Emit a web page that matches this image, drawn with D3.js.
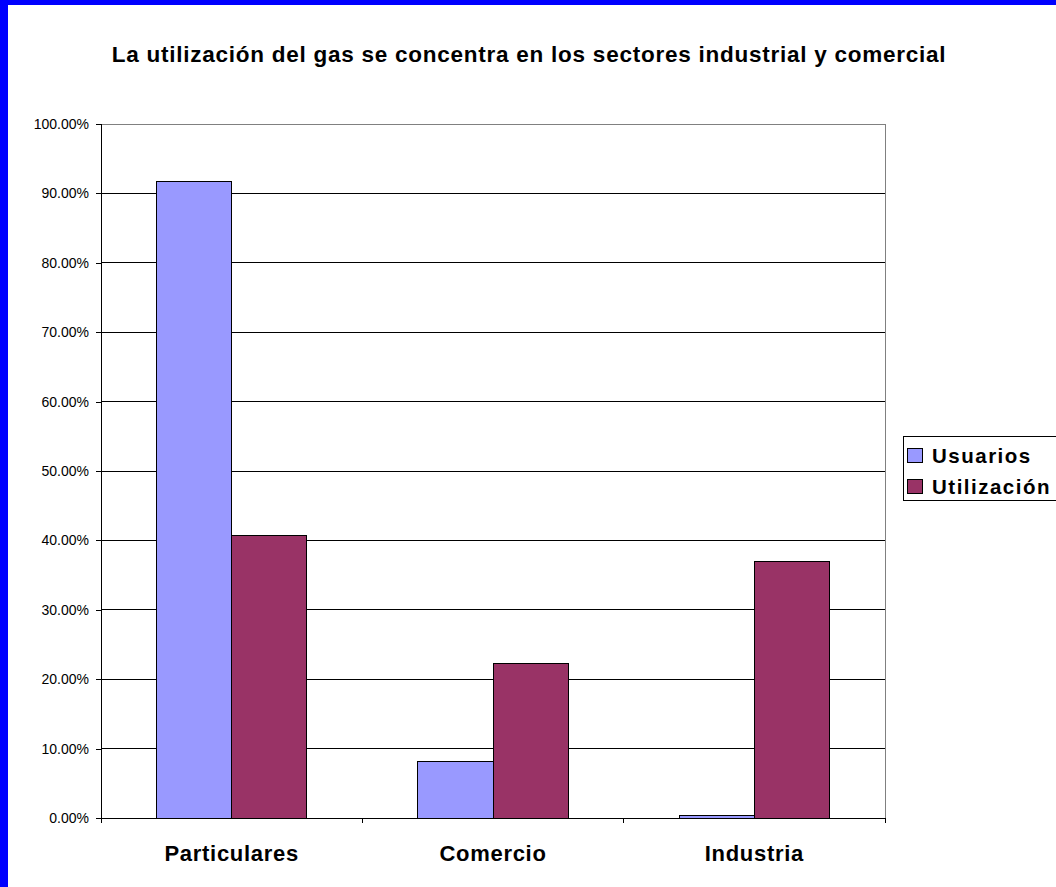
<!DOCTYPE html>
<html><head><meta charset="utf-8">
<script src="https://cdn.jsdelivr.net/npm/d3@7"></script>
<style>
body{margin:0;padding:0;background:#fff;}
svg{display:block;}
text{font-family:"Liberation Sans",Arial,sans-serif;}
</style></head>
<body>
<script>
const categories = ["Particulares", "Comercio", "Industria"];
const seriesNames = ["Usuarios", "Utilización"];
const usuarios = [0.917, 0.081, 0.003];
const utilizacion = [0.407, 0.223, 0.370];
const yTicks = [0, 0.1, 0.2, 0.3, 0.4, 0.5, 0.6, 0.7, 0.8, 0.9, 1.0];
const colors = ["#9999FF", "#993366"];
const title = "La utilización del gas se concentra en los sectores industrial y comercial";

const W = 1056, H = 887;
const svg = d3.select("body").append("svg").attr("width", W).attr("height", H);
svg.append("rect").attr("width", W).attr("height", H).attr("fill", "#fff");
// blue frame
svg.append("rect").attr("x", 0).attr("y", 0).attr("width", 8).attr("height", H).attr("fill", "#0000FF");
svg.append("rect").attr("x", 0).attr("y", 0).attr("width", W).attr("height", 5).attr("fill", "#0000FF");

const L = 101, R = 885, T = 124, B = 818;
const x0 = d3.scaleBand().domain(categories).range([L, R]).paddingInner(0).paddingOuter(0);
const x1 = d3.scaleBand().domain(seriesNames).range([0, x0.bandwidth()]).paddingInner(0).paddingOuter(0.742);
const y = d3.scaleLinear().domain([0, 1]).range([B, T]);

// title
svg.append("text").attr("x", 529).attr("y", 62).attr("text-anchor", "middle")
  .attr("font-size", 22.5).attr("font-weight", "bold").attr("letter-spacing", 0.75)
  .attr("fill", "#000").text(title);

// gridlines
svg.append("g").selectAll("line").data(yTicks.slice(1)).join("line")
  .attr("x1", L).attr("x2", R).attr("y1", d => y(d)).attr("y2", d => y(d))
  .attr("stroke", "#000").attr("stroke-width", 1).attr("shape-rendering", "crispEdges");
// plot border top/right
svg.append("line").attr("x1", L).attr("x2", R).attr("y1", T).attr("y2", T).attr("stroke", "#808080").attr("shape-rendering", "crispEdges");
svg.append("line").attr("x1", R).attr("x2", R).attr("y1", T).attr("y2", B).attr("stroke", "#808080").attr("shape-rendering", "crispEdges");

// bars
const data = categories.map((c, i) => ({c, vals: [usuarios[i], utilizacion[i]]}));
const g = svg.append("g");
data.forEach(d => {
  d.vals.forEach((v, j) => {
    g.append("rect")
      .attr("x", x0(d.c) + x1(seriesNames[j]))
      .attr("y", y(v))
      .attr("width", x1.bandwidth())
      .attr("height", B - y(v))
      .attr("fill", colors[j]).attr("stroke", "#000").attr("stroke-width", 1)
      .attr("shape-rendering", "crispEdges");
  });
});

// y axis
const yAxis = d3.axisLeft(y).tickValues(yTicks).tickFormat(d => (d * 100).toFixed(2) + "%").tickSize(5).tickPadding(7);
const ya = svg.append("g").attr("transform", `translate(${L},0)`).call(yAxis);
ya.selectAll("text").attr("font-size", 14).attr("fill", "#000").attr("font-family", "Liberation Sans, Arial, sans-serif");
ya.selectAll("line,path").attr("stroke", "#000").attr("shape-rendering", "crispEdges");
ya.select("path").attr("d", `M0,${T}V${B + 5}`);

// x axis
const xa = svg.append("g").attr("transform", `translate(0,${B})`);
xa.append("line").attr("x1", L).attr("x2", R).attr("y1", 0).attr("y2", 0).attr("stroke", "#000").attr("shape-rendering", "crispEdges");
const bounds = [L, ...categories.map(c => x0(c) + x0.bandwidth())];
xa.selectAll("line.tk").data(bounds).join("line").attr("class", "tk")
  .attr("x1", d => d).attr("x2", d => d).attr("y1", 0).attr("y2", 5).attr("stroke", "#000").attr("shape-rendering", "crispEdges");
xa.selectAll("text").data(categories).join("text")
  .attr("x", d => x0(d) + x0.bandwidth() / 2).attr("y", 43).attr("text-anchor", "middle")
  .attr("font-size", 22).attr("font-weight", "bold").attr("letter-spacing", 0.7)
  .attr("fill", "#000").text(d => d);

// legend
const lg = svg.append("g");
lg.append("rect").attr("x", 903.5).attr("y", 436.5).attr("width", 160).attr("height", 64)
  .attr("fill", "#fff").attr("stroke", "#000").attr("stroke-width", 1);
seriesNames.forEach((s, i) => {
  const yy = 448 + i * 31;
  lg.append("rect").attr("x", 907.5).attr("y", yy + 0.5).attr("width", 15).attr("height", 14)
    .attr("fill", colors[i]).attr("stroke", "#000").attr("stroke-width", 1);
  lg.append("text").attr("x", 932).attr("y", yy + 14.5).attr("font-size", 20.5).attr("font-weight", "bold")
    .attr("letter-spacing", 1.5).attr("fill", "#000").text(s);
});
</script>
</body></html>
